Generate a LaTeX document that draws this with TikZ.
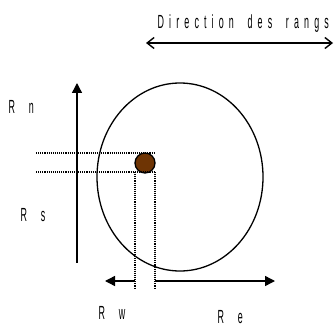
\documentclass[tikz,border=0pt]{standalone}
\usepackage{fontspec}
\newfontfamily\lblfont{Liberation Sans}[FakeStretch=0.47,LetterSpace=27,WordSpace=1.8]
\usetikzlibrary{arrows.meta,shapes.geometric}
\definecolor{trunk}{RGB}{110,52,4}
\tikzset{
  lbl/.style={font=\lblfont\fontsize{19}{20}\selectfont, inner sep=0pt, anchor=west},
  guide/.style={densely dotted, line width=1.1pt},
  dim/.style={line width=1.4pt, -{Triangle[length=10pt,width=10pt]}},
}
\begin{document}
\begin{tikzpicture}[x=1pt, y=-1pt, line width=1.3pt]
    \useasboundingbox (0,0) rectangle (334,326);
    % crown and trunk
    \node[ellipse, draw, line width=1.3pt, minimum width=166pt, minimum height=188pt, inner sep=0pt] (crown) at (180,177) {};
    \node[circle, fill=trunk, draw=black, line width=1.3pt, minimum size=20pt, inner sep=0pt] (trunk) at (145,163) {};
    % guides
    \coordinate (gnw) at (36,153);  \coordinate (gne) at (155,153);
    \coordinate (gsw) at (36,172);  \coordinate (gse) at (155,172);
    \coordinate (gsm) at (135,172);
    \coordinate (gbw) at (135,288); \coordinate (gbe) at (155,288);
    \draw[guide] (gnw) -- (gne);
    \draw[guide] (gsw) -- (gse);
    \draw[guide] (gsm) -- (gbw);
    \draw[guide] (gse) -- (gbe);
    % radii
    \coordinate (nTip) at (77,83);  \coordinate (sTip) at (77,263);
    \draw[dim, {Triangle[length=10pt,width=10pt]}-] (nTip) -- (sTip);
    \coordinate (wBase) at (135,281); \coordinate (wTip) at (105,281);
    \coordinate (eBase) at (155,281); \coordinate (eTip) at (275,281);
    \draw[dim] (wBase) -- (wTip);
    \draw[dim] (eBase) -- (eTip);
    % row direction
    \coordinate (rowW) at (146,43); \coordinate (rowE) at (333,43);
    \draw[line width=1.4pt, {Straight Barb[length=7pt,width=11pt]}-{Straight Barb[length=7pt,width=11pt]}] (rowW) -- (rowE);
    \node[lbl] (rowlbl) at (157,24) {Direction des rangs};
    % labels
    \node[lbl] (Rn) at (8,107) {R n};
    \node[lbl] (Rs) at (20,215) {R s};
    \node[lbl] (Rw) at (98,313) {R w};
    \node[lbl] (Re) at (217,317) {R e};
\end{tikzpicture}
\end{document}
